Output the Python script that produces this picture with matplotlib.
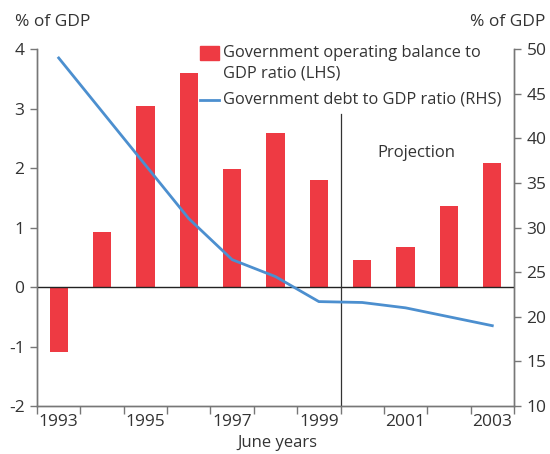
import matplotlib
matplotlib.use("Agg")
import matplotlib.pyplot as plt
from matplotlib.patches import Rectangle
from matplotlib.lines import Line2D
import numpy as np

# June years, 1993-2003
years = [1993, 1994, 1995, 1996, 1997, 1998, 1999, 2000, 2001, 2002, 2003]
operating_balance = [-1.1, 0.92, 3.05, 3.6, 1.98, 2.59, 1.8, 0.45, 0.68, 1.36, 2.08]
debt_ratio = [49.0, 43.0, 37.0, 31.0, 26.4, 24.5, 21.7, 21.6, 21.0, 20.0, 19.0]
year_labels = ["1993", "1995", "1997", "1999", "2001", "2003"]

RED = "#EE3A43"
BLUE = "#4C8FCF"
TXT = "#333333"
AXC = "#777777"

plt.rcParams["font.family"] = ["Open Sans", "DejaVu Sans"]
plt.rcParams["font.size"] = 12

fig = plt.figure(figsize=(5.5, 4.54), dpi=100)
ax = fig.add_axes([0.0673, 0.1057, 0.8672, 0.7863])
ax2 = ax.twinx()

x = np.arange(len(years))
ax.bar(x, operating_balance, width=0.42, color=RED, zorder=2)
ax.axhline(0, color="#222222", lw=1.0, zorder=3)
ax.plot([6.5, 6.5], [-2, 2.9], color="#333333", lw=0.9, zorder=3)

ax2.plot(x, debt_ratio, color=BLUE, lw=2.0, zorder=4)

ax.set_xlim(-0.5, 10.5)
ax.set_ylim(-2, 4)
ax2.set_ylim(10, 50)

# x ticks at category boundaries, labels at every second year
ax.set_xticks(np.arange(-0.5, 11, 1))
ax.set_xticklabels([])
ax.set_xticks(x[::2], minor=True)
ax.set_xticklabels(year_labels, minor=True)
ax.tick_params(axis="x", which="major", length=6, width=1, color=AXC, direction="out")
ax.tick_params(axis="x", which="minor", length=0, pad=6, labelcolor=TXT, labelsize=12.5)

ax.set_yticks(range(-2, 5))
ax.set_yticklabels([str(v) for v in range(-2, 5)])
ax.tick_params(axis="y", length=5, width=1, color=AXC, labelcolor=TXT, labelsize=12.5, pad=4)
ax2.set_yticks(range(10, 51, 5))
ax2.tick_params(axis="y", length=5, width=1, color=AXC, labelcolor=TXT, labelsize=12.5, pad=4)

for a in (ax, ax2):
    a.spines["top"].set_visible(False)
    for s in ("left", "right", "bottom"):
        a.spines[s].set_color(AXC)
        a.spines[s].set_linewidth(1.0)

fig.text(15 / 550, 1 - 22 / 454, "% of GDP", color=TXT, fontsize=12.5, va="center", ha="left")
fig.text(545 / 550, 1 - 22 / 454, "% of GDP", color=TXT, fontsize=12.5, va="center", ha="right")
fig.text(277 / 550, 1 - 443 / 454, "June years", color=TXT, fontsize=12, va="center", ha="center")
ax.text(8.25, 2.25, "Projection", color=TXT, fontsize=12, ha="center", va="center")

# legend drawn by hand so the swatch sits on the first text line
fig.add_artist(Rectangle((200 / 550, 1 - 60 / 454), 19 / 550, 14 / 454,
                         transform=fig.transFigure, color=RED))
fig.add_artist(Line2D([200 / 550, 219 / 550], [1 - 100 / 454, 1 - 100 / 454],
                      transform=fig.transFigure, color=BLUE, lw=2.0))
fig.text(223 / 550, 1 - 53 / 454, "Government operating balance to", color=TXT,
         fontsize=11.8, va="center", ha="left")
fig.text(223 / 550, 1 - 74 / 454, "GDP ratio (LHS)", color=TXT,
         fontsize=11.8, va="center", ha="left")
fig.text(223 / 550, 1 - 100 / 454, "Government debt to GDP ratio (RHS)", color=TXT,
         fontsize=11.8, va="center", ha="left")

fig.savefig("out.png", dpi=100)
